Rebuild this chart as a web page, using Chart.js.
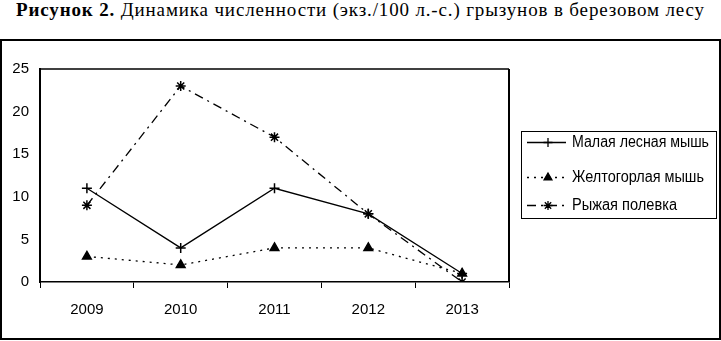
<!DOCTYPE html>
<html>
<head>
<meta charset="utf-8">
<script src="https://cdn.jsdelivr.net/npm/chart.js@4/dist/chart.umd.min.js"></script>
<style>
  html, body { margin: 0; padding: 0; background: #fff; }
  #wrap { position: relative; width: 721px; height: 341px; overflow: hidden; }
  #title {
    position: absolute; left: 0; top: -1px; width: 721px; text-align: center;
    font-family: "Liberation Serif", "Times New Roman", serif; font-size: 19px;
    letter-spacing: 0.85px; color: #000; white-space: nowrap;
  }
  #frame {
    position: absolute; left: 0; top: 39px; width: 721px; height: 301px;
    box-sizing: border-box; border: 2px solid #000;
  }
  #chart { position: absolute; left: 0; top: 0; }
</style>
</head>
<body>
<div id="wrap">
  <div id="title"><b>Рисунок 2.</b> Динамика численности (экз./100 л.-с.) грызунов в березовом лесу</div>
  <div id="frame"></div>
  <canvas id="chart" width="721" height="341"></canvas>
</div>
<script>
// Data
const years = ['2009', '2010', '2011', '2012', '2013'];
const seriesNames = ['Малая лесная мышь', 'Желтогорлая мышь', 'Рыжая полевка'];
const smallWoodMouse = [11, 4, 11, 8, 1];
const yellowNeckedMouse = [3, 2, 4, 4, 1];
const bankVole = [9, 23, 17, 8, 0];
const yTicks = [0, 5, 10, 15, 20, 25];

const fontFamily = '"Liberation Sans", Arial, sans-serif';
const tickFont = { family: fontFamily, size: 15 };

// Plot frame (top / right border) like the spreadsheet original
const plotFrame = {
    id: 'plotFrame',
    afterDraw(chart) {
        const { ctx, chartArea: a } = chart;
        ctx.save();
        ctx.strokeStyle = '#000';
        ctx.lineWidth = 1.5;
        ctx.beginPath();
        ctx.moveTo(a.left, a.top);
        ctx.lineTo(a.right, a.top);
        ctx.stroke();
        ctx.lineWidth = 2;
        ctx.beginPath();
        ctx.moveTo(a.right, a.top);
        ctx.lineTo(a.right, a.bottom);
        ctx.stroke();
        ctx.restore();
    }
};

// Legend box on the right, each row: line sample with marker, then the name
const boxLegend = {
    id: 'boxLegend',
    afterDraw(chart) {
        const ctx = chart.ctx;
        const left = 521, top = 131, right = 716, bottom = 218;
        const rows = [142, 177, 205];
        const textWidths = [137, 132, 105];
        ctx.save();
        ctx.strokeStyle = '#000';
        ctx.lineWidth = 1;
        ctx.strokeRect(left + 0.5, top + 0.5, right - left, bottom - top);
        chart.data.datasets.forEach((ds, i) => {
            const y = rows[i] + 0.5;
            ctx.setLineDash(ds.borderDash || []);
            ctx.lineWidth = 1.3;
            ctx.beginPath();
            ctx.moveTo(527, y);
            ctx.lineTo(566, y);
            ctx.stroke();
            ctx.setLineDash([]);
            Chart.helpers.drawPoint(ctx, {
                pointStyle: ds.pointStyle,
                radius: ds.pointRadius - 0.5,
                borderWidth: 1.3
            }, 548, y);
            if (ds.pointStyle === 'triangle') ctx.fill();
            // narrow the text horizontally, the original uses a condensed face
            ctx.fillStyle = '#000';
            ctx.font = '16px ' + fontFamily;
            ctx.textBaseline = 'middle';
            ctx.textAlign = 'left';
            const w = ctx.measureText(ds.label).width;
            ctx.save();
            ctx.translate(572, rows[i] + 1);
            ctx.scale(textWidths[i] / w, 1);
            ctx.fillText(ds.label, 0, 0);
            ctx.restore();
        });
        ctx.restore();
    }
};

const common = {
    borderColor: '#000',
    backgroundColor: '#000',
    pointBorderColor: '#000',
    pointBackgroundColor: '#000',
    borderWidth: 1.3,
    pointBorderWidth: 1.5,
    tension: 0,
    fill: false
};

new Chart(document.getElementById('chart'), {
    type: 'line',
    data: {
        labels: years,
        datasets: [
            { ...common, label: seriesNames[0], data: smallWoodMouse, pointStyle: 'cross', pointRadius: 5 },
            { ...common, label: seriesNames[1], data: yellowNeckedMouse, pointStyle: 'triangle', pointRadius: 5, borderDash: [2, 5] },
            { ...common, label: seriesNames[2], data: bankVole, pointStyle: 'star', pointRadius: 5, borderDash: [9, 5, 2, 5] }
        ]
    },
    options: {
        responsive: false,
        animation: false,
        devicePixelRatio: 1,
        layout: { padding: { left: 0, top: 69, right: 212, bottom: 0 } },
        plugins: {
            legend: { display: false },
            tooltip: { enabled: false },
            title: { display: false }
        },
        scales: {
            x: {
                type: 'category',
                offset: true,
                grid: { display: true, drawOnChartArea: false, drawTicks: true, tickLength: 6, offset: true, color: '#000', lineWidth: 1 },
                border: { display: true, color: '#000', width: 1.5 },
                ticks: { color: '#000', font: tickFont, padding: 13, maxRotation: 0 },
                afterFit(scale) { scale.height = 341 - 282; }
            },
            y: {
                min: 0,
                max: 25,
                afterBuildTicks(scale) { scale.ticks = yTicks.map(v => ({ value: v })); },
                grid: { display: false, drawTicks: false },
                border: { display: true, color: '#000', width: 2 },
                ticks: { color: '#000', font: tickFont, padding: 11 },
                afterFit(scale) { scale.width = 40; }
            }
        }
    },
    plugins: [plotFrame, boxLegend]
});
</script>
</body>
</html>
